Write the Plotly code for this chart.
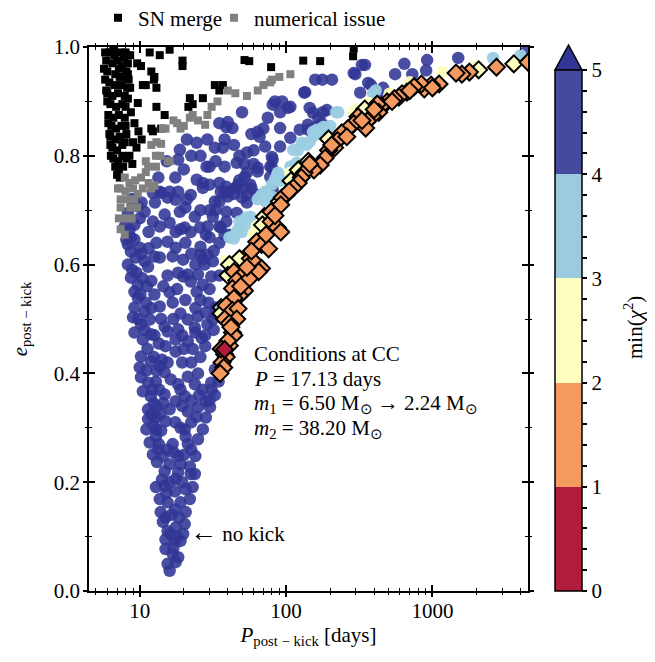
import math
import plotly.graph_objects as go

# ---------------- data ----------------
sn_merge = [
    (5.8,0.99),(6.2,0.99),(6.6,0.995),(7.4,0.99),(8.0,0.99),(8.6,0.985),
    (5.9,0.975),(6.5,0.97),(7.0,0.975),(7.6,0.965),(6.0,0.955),(6.8,0.95),(7.3,0.945),(8.1,0.955),
    (6.2,0.935),(6.7,0.93),(7.5,0.93),(6.0,0.915),(6.5,0.91),(7.1,0.915),(7.9,0.91),
    (6.3,0.895),(6.9,0.89),(7.6,0.895),(6.1,0.875),(6.6,0.87),(7.2,0.875),(7.9,0.87),
    (6.4,0.855),(6.9,0.85),(7.5,0.855),(6.3,0.835),(6.8,0.83),(7.3,0.835),(8.1,0.84),
    (6.5,0.815),(7.0,0.81),(7.6,0.82),(6.6,0.795),(7.1,0.79),(7.6,0.80),
    (6.8,0.78),(7.2,0.775),(7.0,0.765),(7.3,0.76),
    (5.7,0.96),(5.8,0.94),(5.9,0.92),(6.0,0.90),(6.1,0.86),(6.2,0.84),(6.3,0.82),(6.35,0.80),
    (7.8,0.98),(8.3,0.97),(7.7,0.945),(8.2,0.925),(8.0,0.89),(8.3,0.905),(8.0,0.855),
    (7.9,0.825),(7.7,0.78),(8.1,0.795),(6.7,0.985),(7.2,0.96),
    (8.3,0.95),(8.6,0.925),(8.4,0.94),(9.6,0.97),(10.2,0.965),(10.5,0.93),(11.0,0.93),
    (9.7,0.897),(8.7,0.88),(9.2,0.86),(9.8,0.845),(10.3,0.83),(9.0,0.825),(8.5,0.80),
    (8.9,0.785),(9.5,0.815),
    (11.7,0.99),(13.7,0.985),(16.0,0.995),(19.6,0.975),(19.6,0.965),(12.0,0.955),
    (12.5,0.94),(13.0,0.925),(12.6,0.945),(14.8,0.875),(13.0,0.89),(12.0,0.85),
    (12.3,0.845),(14.0,0.85),(22.0,0.906),(21.5,0.89),(23.0,0.895),(27.0,0.906),
    (32.6,0.93),(37.0,0.93),(35.0,0.92),(52,0.976),(56,0.974),(79,0.963),
    (131,0.975),(171,0.974),(287,0.983),(290,0.997),
]

numerical_issue = [
    (107,0.95),(78,0.935),(80,0.94),(64,0.92),(54,0.91),(40,0.92),(34,0.90),
    (31,0.89),(29,0.875),(28,0.857),(22,0.87),(20,0.855),(19,0.85),(17,0.865),(23,0.875),
    (14.4,0.85),(15,0.85),(13,0.825),(12,0.82),(14,0.822),(12.9,0.80),(12.9,0.78),
    (15.6,0.79),(16,0.79),(11.4,0.78),(11,0.79),(10.2,0.76),(11.5,0.75),(12.6,0.745),
    (9.7,0.73),(7.9,0.76),(7.3,0.74),(7.1,0.74),(8.0,0.735),(9.0,0.74),(10.5,0.74),
    (12.0,0.74),(7.4,0.72),(8.3,0.72),(9.2,0.72),(7.4,0.705),(8.6,0.705),(9.6,0.705),
    (7.2,0.685),(8.0,0.685),(8.8,0.685),(7.4,0.665),(7.9,0.655),
    (8.5,0.75),(9.3,0.755),(11,0.77),(13.8,0.80),(18,0.86),(25,0.865),(45,0.915),(70,0.93),
    (90,0.945),
]

# min(chi^2) > 5
chi_gt5 = [
    (13.7,0.734),(15.5,0.723),(12.7,0.714),(17.6,0.719),(22.3,0.728),(27,0.741),(32.6,0.716),
    (35.8,0.734),(9,0.719),(9.2,0.673),(8.7,0.65),(10.8,0.697),(12.3,0.679),(13.7,0.67),
    (16,0.677),(14.8,0.692),(18.8,0.697),(20.3,0.668),(23.8,0.688),(17.6,0.66),(22.3,0.66),
    (25.8,0.668),(31.6,0.688),(35.8,0.668),(28.3,0.655),(15.5,0.642),(17.6,0.631),(8.3,0.637),
    (8.7,0.624),(10,0.631),(9.4,0.613),(8.3,0.60),(10.8,0.606),(12.6,0.615),(13.7,0.613),
    (11.4,0.596),(26,0.618),(27.8,0.60),(31.6,0.606),(25,0.582),(21.3,0.582),(19.8,0.578),
    (18.3,0.585),(22.3,0.569),(8.7,0.576),(9.7,0.563),(9.2,0.55),(9.7,0.539),(12.6,0.545),
    (16,0.549),(16.8,0.53),(13.7,0.523),(10.8,0.514),(9.2,0.521),(9,0.503),(10.2,0.49),
    (11.7,0.499),(21.3,0.499),(25,0.505),(28.3,0.512),(31.6,0.499),(33,0.521),(27,0.563),
    (30.8,0.578),(14.8,0.486),(18.3,0.481),(23.8,0.484),
    (9.2,0.475),(10.5,0.462),(11.9,0.472),(15.5,0.477),(17.6,0.462),(21.3,0.459),(24,0.475),
    (28,0.45),(15,0.45),(17.6,0.44),(10.2,0.431),(10,0.411),(11.9,0.422),(13.7,0.413),
    (15.5,0.42),(14.8,0.402),(10.2,0.393),(11.4,0.383),(12.9,0.385),(16.3,0.389),(18.3,0.38),
    (21.3,0.394),(23.8,0.38),(27,0.37),(30.8,0.383),(32.6,0.407),(10.5,0.367),(11.9,0.358),
    (14.8,0.361),(17.6,0.349),(20.3,0.358),(28.3,0.349),(30.2,0.338),(11.4,0.334),(13.1,0.339),
    (16,0.334),(21.3,0.33),(25,0.338),(11.4,0.316),(12.9,0.319),(15,0.312),(28.3,0.319),
    (11.1,0.297),(12.9,0.297),(20.3,0.297),(27,0.297),(12.9,0.284),(20.6,0.284),(25,0.279),
    (11.7,0.273),(16.8,0.27),(21.3,0.27),(12.3,0.251),(14.4,0.248),(18.3,0.248),(24,0.248),
    (13.1,0.237),(16,0.233),(19,0.233),(22,0.229),(14.8,0.22),(18.3,0.218),(23.8,0.215),
    (12.9,0.191),(14.8,0.193),(17.4,0.183),(20.6,0.187),(23,0.191),(17.6,0.206),(22.3,0.215),
    (13.7,0.169),(15.5,0.163),(19,0.163),(22,0.169),(13.9,0.145),(17.4,0.15),(20.6,0.145),
    (14.4,0.127),(15.5,0.11),(17.6,0.117),(20.3,0.123),(19.8,0.105),(15,0.095),(17.4,0.092),
    (19,0.092),(15,0.077),(16.8,0.068),(18.3,0.062),(15.5,0.05),(17.6,0.053),(16,0.037),
    (34.6,0.385),(31,0.37),(32.6,0.36),(30,0.35),(29,0.49),(33,0.51),(28,0.47),(32,0.48),
    (30,0.555),(35,0.58),(27,0.61),(32,0.625),(35,0.64),(41,0.655),(29,0.67),(33,0.70),
    (40,0.725),(35,0.75),(30,0.78),(44,0.73),(48,0.755),(58,0.74),(52,0.785),(60,0.785),
    (12.3,0.732),(14,0.732),(16,0.734),(18.3,0.734),(21,0.72),(10.3,0.714),(9.7,0.707),
    (8.8,0.72),(8.3,0.695),(7.9,0.67),(8.5,0.664),(8.1,0.646),(9.2,0.646),
    (35,0.716),(38,0.732),(30,0.70),(50,0.723),(54,0.714),(46,0.695),(39,0.679),(35,0.67),
    (41,0.651),(16.8,0.615),(19.8,0.609),(26,0.633),(30,0.65),(29,0.618),
    (24.5,0.824),(29,0.83),(32.6,0.815),(37,0.815),(28.6,0.78),(33,0.79),(38,0.78),
    (18.8,0.811),(18.3,0.793),(15.3,0.79),(24.5,0.756),(27,0.75),(30,0.747),(39,0.743),
    (46,0.743),(52,0.741),(54,0.769),(46,0.787),(54,0.806),(64,0.778),(78,0.78),(78,0.761),
    (80,0.798),(91,0.817),(74,0.732),(81,0.738),(40,0.734),(45,0.741),(54,0.728),(63,0.728),
    (39,0.697),(38,0.655),
    (43,0.851),(39,0.853),(40,0.862),(38,0.83),(50,0.88),(64,0.844),(66,0.835),(75,0.87),
    (81,0.894),(94,0.90),(103,0.888),(91,0.88),(84,0.90),(107,0.89),(91,0.851),(124,0.848),
    (141,0.848),(107,0.833),(72,0.817),(81,0.793),(80,0.778),(64,0.771),(52,0.761),(47,0.747),
    (57,0.747),(145,0.888),(153,0.879),(178,0.88),(166,0.87),(141,0.857),(160,0.853),
    (175,0.86),(190,0.884),(158,0.94),(177,0.94),(206,0.94),(135,0.917),(133,0.916),
    (297,0.95),(346,0.967),(330,0.967),(290,0.952),(364,0.934),(321,0.916),(643,0.969),
    (556,0.95),(729,0.95),(920,0.976),(906,0.957),(1500,0.98),(4300,0.99),(380,0.93),
    (460,0.925),(420,0.915),
    (8.9,0.59),(9.5,0.585),(10.4,0.575),(11.2,0.56),(10.1,0.545),(11,0.53),(12,0.52),
    (9.8,0.50),(10.8,0.48),(12.6,0.47),(13.5,0.455),(11.3,0.445),(12.5,0.43),(14.2,0.425),
    (13,0.405),(11.1,0.405),(12.2,0.37),(13.6,0.37),(12.5,0.345),(14.5,0.345),(12,0.325),
    (13.8,0.325),(12.4,0.305),(14,0.295),(13.5,0.27),(15.5,0.26),(13.4,0.26),(17,0.255),
    (14.2,0.205),(16,0.20),(15.2,0.18),(16.5,0.14),(15,0.135),(18.5,0.135),(16.2,0.105),
    (18,0.10),(17,0.08),(19.5,0.20),(20,0.25),(22.5,0.26),(19,0.30),(17.5,0.31),(22.5,0.31),
    (24.5,0.32),(19.5,0.34),(22.5,0.35),(25.5,0.36),(19,0.37),(25,0.40),(22.5,0.42),
    (19.5,0.42),(26,0.43),(20,0.445),(23,0.445),(26.5,0.465),(19.5,0.47),(17,0.50),(14,0.50),
    (19,0.51),(24,0.52),(20.5,0.535),(26,0.535),(14.5,0.56),(18,0.555),(24.5,0.55),
    (29.5,0.53),(12,0.57),(15.5,0.58),(10.3,0.62),(11.5,0.63),(13,0.64),(11.5,0.66),
    (20.5,0.64),(24,0.60),(22.5,0.62),(19,0.665),(10,0.685),(26,0.70),(20.5,0.705),
    (13.4,0.76),(17.5,0.76),(20,0.775),(22.5,0.80),(26,0.80),(21,0.83),(35,0.86),(44,0.82),
    (48,0.80),(60,0.81),(58,0.84),(70,0.85),
]

# 3 <= min(chi^2) < 4 (circles)
chi_3_4 = [
    (220,0.88),(200,0.855),(174,0.846),(155,0.837),(120,0.81),(108,0.78),(87,0.765),
    (92,0.754),(68,0.728),(73,0.715),(57,0.688),(48,0.679),(46,0.66),(44,0.648),
    (4000,0.985),(2600,0.98),(410,0.92),(394,0.915),(227,0.88),(180,0.853),(163,0.848),
    (107,0.78),(118,0.787),(94,0.761),(80,0.747),(74,0.725),(50,0.66),(54,0.67),(43,0.651),
    (128,0.824),(138,0.82),(145,0.826),(153,0.844),(171,0.842),(112,0.811),(88,0.769),
    (84,0.756),(72,0.734),(80,0.725),(64,0.72),(53,0.686),(47,0.664),(41,0.65),
]

# 2 <= min(chi^2) < 3 (circles)
chi_2_3 = [
    (1170,0.954),(310,0.885),(510,0.914),(108,0.765),(60,0.657),(41,0.60),(290,0.88),
    (364,0.897),(107,0.769),(38.6,0.606),(63,0.67),(41,0.605),(2000,0.965),(700,0.935),
]

# diamonds
dia_1_2 = [
    (4500,0.972),(2740,0.963),(1790,0.954),(1590,0.95),(1450,0.952),(1110,0.932),(980,0.93),
    (880,0.923),(840,0.932),(750,0.927),(670,0.917),(620,0.914),(590,0.908),(550,0.905),
    (490,0.899),(450,0.892),(420,0.895),(430,0.88),(390,0.873),(360,0.864),(350,0.851),
    (310,0.872),(290,0.859),(265,0.85),(240,0.842),(225,0.828),(215,0.815),(195,0.81),
    (185,0.796),(171,0.783),(155,0.774),(133,0.769),(127,0.76),(121,0.75),(112,0.741),
    (100,0.728),(94,0.723),(92,0.71),(79,0.697),(79,0.679),(87,0.668),(92,0.66),(63,0.642),
    (68,0.637),(76,0.629),(57,0.611),(60,0.606),(68,0.593),(65,0.587),(44,0.587),(50,0.58),
    (46,0.571),(56,0.574),(43,0.556),(52,0.552),(48,0.543),(44,0.538),(39,0.525),(43,0.516),
    (47,0.519),(46,0.50),(38,0.50),(41,0.492),(43,0.475),(44,0.47),(41,0.451),(38,0.435),
    (39,0.43),(36.5,0.42),(37.5,0.411),(35.4,0.40),(40,0.46),(42,0.485),(36,0.445),
    (73,0.655),(84,0.69),(105,0.735),(145,0.785),(205,0.82),(260,0.835),(330,0.865),
    (400,0.885),(530,0.90),(700,0.92),(1000,0.925),(54,0.595),(49,0.56),(58,0.625),
]
dia_2_3 = [
    (3600,0.969),(2070,0.958),(345,0.886),(195,0.831),(142,0.79),(108,0.754),(121,0.774),
    (90,0.716),(71,0.688),(69,0.673),(56,0.596),(48,0.611),(41,0.60),(40,0.58),(36,0.51),
]
dia_3_4 = [(36,0.521)]
dia_0_1 = [(38,0.444)]

cbar_levels = [0, 1, 2, 3, 4, 5]
cbar_colors = ["#b01c3c", "#f4995f", "#fefec0", "#9ccbe0", "#454a9e"]
over_color = "#313695"

x_ticks = [10, 100, 1000]
y_ticks = [0.0, 0.2, 0.4, 0.6, 0.8, 1.0]

SERIF = "Liberation Serif"

# ---------------- geometry (screen pixels) ----------------
OFF = 8                       # page body margin offset
W, H = 655 - OFF, 662 - OFF   # figure size
L, R, T, B = 89, 528, 47, 591 # target frame on screen
pw, ph = R - L, B - T

def px(xs):   # screen x -> paper fraction
    return (xs - L) / pw

def py(ys):   # screen y -> paper fraction
    return (B - ys) / ph

def unzip(pts):
    return [p[0] for p in pts], [p[1] for p in pts]

fig = go.Figure()

def circles(pts, color, name):
    x, y = unzip(pts)
    fig.add_trace(go.Scatter(x=x, y=y, mode="markers", name=name, showlegend=False,
                             marker=dict(symbol="circle", size=12.5, color=color,
                                         line=dict(width=0)), hoverinfo="skip"))

def diamonds(pts, color, name):
    x, y = unzip(pts)
    fig.add_trace(go.Scatter(x=x, y=y, mode="markers", name=name, showlegend=False,
                             marker=dict(symbol="diamond", size=13, color=color,
                                         line=dict(width=2, color="black")), hoverinfo="skip"))

circles(chi_gt5, "rgba(49,54,149,0.88)", "chi2>5")
circles(chi_3_4, "rgba(155,205,225,0.95)", "3-4")
circles(chi_2_3, "rgba(254,254,192,0.95)", "2-3")

x, y = unzip(sn_merge)
fig.add_trace(go.Scatter(x=x, y=y, mode="markers", name="SN merge", legend="legend",
                         marker=dict(symbol="square", size=8, color="black"), hoverinfo="skip"))
x, y = unzip(numerical_issue)
fig.add_trace(go.Scatter(x=x, y=y, mode="markers", name="numerical issue", legend="legend2",
                         marker=dict(symbol="square", size=8, color="#808080"), hoverinfo="skip"))

diamonds(dia_3_4, cbar_colors[3], "d3-4")
diamonds(dia_2_3, cbar_colors[2], "d2-3")
diamonds(dia_1_2, cbar_colors[1], "d1-2")
diamonds(dia_0_1, cbar_colors[0], "d0-1")

# colorbar carrier
cs = []
n = len(cbar_colors)
for i, c in enumerate(cbar_colors):
    cs.append([i / n, c])
    cs.append([(i + 1) / n, c])
cb_left, cb_right, cb_top, cb_tip = 555, 582, 70, 45
cb_thick = cb_right - cb_left
minor_vals = [i * 0.2 for i in range(26)]
fig.add_trace(go.Scatter(
    x=[None], y=[None], mode="markers", showlegend=False, hoverinfo="skip",
    marker=dict(color=[0], cmin=cbar_levels[0], cmax=cbar_levels[-1], colorscale=cs,
                showscale=True,
                colorbar=dict(x=px(cb_left), xanchor="left", xpad=0, ypad=0, y=0, yanchor="bottom",
                              len=py(cb_top), lenmode="fraction", thickness=cb_thick,
                              outlinecolor="black", outlinewidth=1.5,
                              tickmode="array", tickvals=minor_vals,
                              ticktext=[str(int(round(v))) if abs(v - round(v)) < 1e-6 else " " for v in minor_vals],
                              ticks="outside", ticklen=5, tickwidth=1.5, tickcolor="black",
                              tickfont=dict(family=SERIF, size=21, color="black")))))

# extension triangle on top of colorbar
fig.add_shape(type="path", xref="paper", yref="paper",
              path=f"M {px(cb_left)},{py(cb_top)} L {px(cb_right)},{py(cb_top)} "
                   f"L {px((cb_left + cb_right) / 2)},{py(cb_tip)} Z",
              fillcolor=over_color, line=dict(color="black", width=1.5))
fig.add_annotation(x=px(633), y=py(328), xref="paper", yref="paper",
                   text="min(<i>χ</i><sup>2</sup>)", textangle=-90, showarrow=False,
                   xanchor="center", yanchor="middle",
                   font=dict(family=SERIF, size=21, color="black"))

# invisible trace on overlay axes for crossing ticks
fig.add_trace(go.Scatter(x=[None], y=[None], xaxis="x2", yaxis="y2", showlegend=False,
                         hoverinfo="skip"))

xr = [math.log10(4.5), math.log10(4500)]
axis_common = dict(showline=True, linecolor="black", linewidth=1.5, mirror="ticks",
                   showgrid=False, zeroline=False, tickcolor="black", tickwidth=1.5)

leg_common = dict(orientation="h", xanchor="left", yanchor="middle", y=py(18),
                  font=dict(family=SERIF, size=21), bgcolor="rgba(0,0,0,0)",
                  itemsizing="trace")

fig.update_layout(
    width=W, height=H,
    margin=dict(l=L - OFF, r=W - (R - OFF), t=T - OFF, b=H - (B - OFF), autoexpand=False),
    paper_bgcolor="white", plot_bgcolor="white",
    font=dict(family=SERIF, size=20, color="black"),
    xaxis=dict(type="log", range=xr, tickvals=x_ticks, ticktext=[str(v) for v in x_ticks],
               ticks="inside", ticklen=6, ticklabelstandoff=0,
               minor=dict(ticks="inside", ticklen=3.5, tickwidth=1, tickcolor="black", dtick="D1",
                          showgrid=False),
               tickfont=dict(family=SERIF, size=21),
               title=dict(text="<i>P</i><sub>post − kick</sub> [days]", standoff=2,
                          font=dict(family=SERIF, size=21)),
               **axis_common),
    yaxis=dict(range=[0, 1], tickvals=y_ticks, ticktext=[f"{v:.1f}" for v in y_ticks],
               ticks="inside", ticklen=6, ticklabelstandoff=3,
               minor=dict(ticks="inside", ticklen=3.5, tickwidth=1, tickcolor="black", dtick=0.1,
                          showgrid=False),
               tickfont=dict(family=SERIF, size=21),
               title=dict(text="<i>e</i><sub>post − kick</sub>", standoff=26,
                          font=dict(family=SERIF, size=21)),
               **axis_common),
    xaxis2=dict(type="log", range=xr, overlaying="x", matches="x", tickvals=x_ticks,
                showticklabels=False, ticks="outside", ticklen=4,
                minor=dict(ticks="outside", ticklen=2.5, tickwidth=1, tickcolor="black", dtick="D1",
                           showgrid=False),
                **axis_common),
    yaxis2=dict(range=[0, 1], overlaying="y", matches="y", tickvals=y_ticks,
                showticklabels=False, ticks="outside", ticklen=4,
                minor=dict(ticks="outside", ticklen=2.5, tickwidth=1, tickcolor="black", dtick=0.1,
                           showgrid=False),
                **axis_common),
    legend=dict(x=px(98), **leg_common),
    legend2=dict(x=px(214), **leg_common),
    showlegend=True,
)

# text annotations
lx = xr[0] + px(252) * (xr[1] - xr[0])
lines = [
    ("Conditions at CC", 0.435),
    ("<i>P</i> = 17.13 days", 0.389),
    ("<i>m</i><sub>1</sub> = 6.50 M<sub>⊙</sub> → 2.24 M<sub>⊙</sub>", 0.343),
    ("<i>m</i><sub>2</sub> = 38.20 M<sub>⊙</sub>", 0.297),
]
for t, yy in lines:
    fig.add_annotation(x=lx, y=yy, xref="x", yref="y", text=t, showarrow=False,
                       xanchor="left", yanchor="middle", align="left",
                       font=dict(family=SERIF, size=21, color="black"))
fig.add_annotation(x=math.log10(21.5), y=0.108, xref="x", yref="y",
                   text="<span style='font-size:27px'>←</span> no kick",
                   showarrow=False, xanchor="left", yanchor="middle",
                   font=dict(family=SERIF, size=21, color="black"))

fig.write_html("out.html")
